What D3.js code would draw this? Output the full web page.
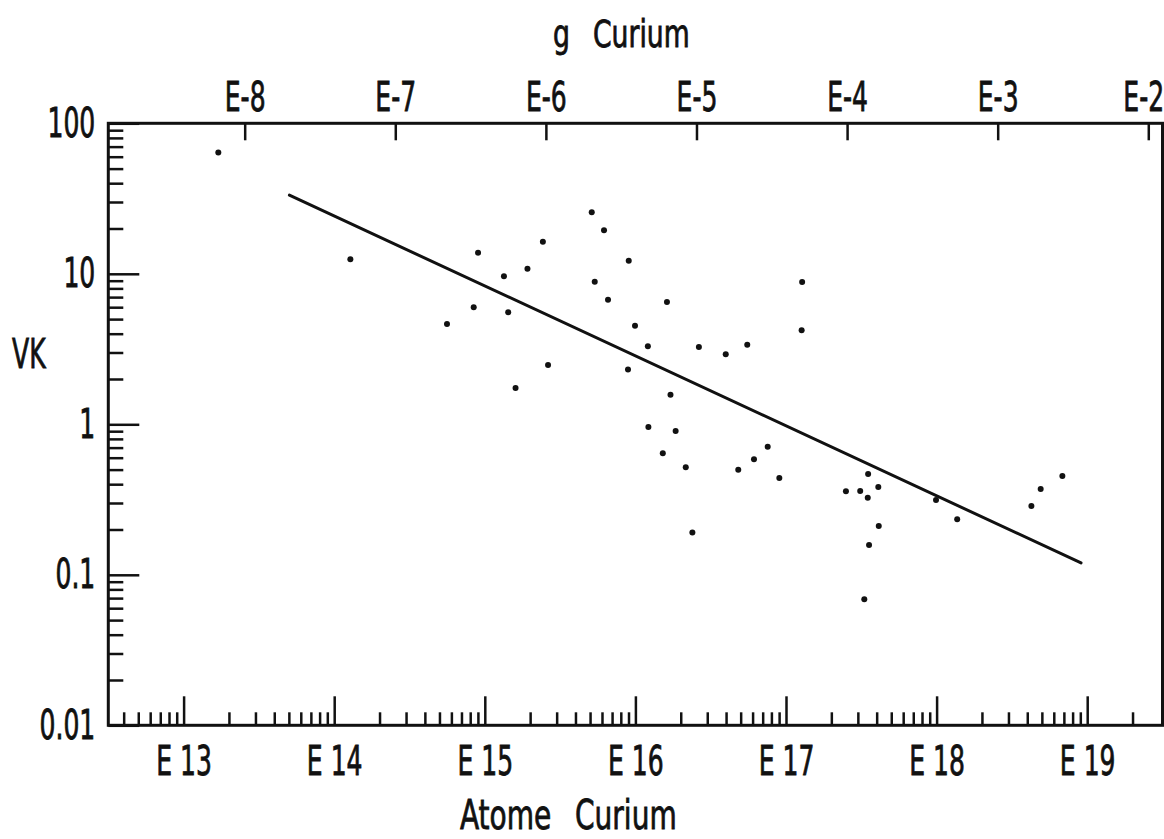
<!DOCTYPE html>
<html>
<head>
<meta charset="utf-8">
<script src="https://cdn.jsdelivr.net/npm/d3@7"></script>
<style>
  body { margin: 0; background: #fff; }
  text { font-family: "Liberation Sans Narrow", "DejaVu Sans Condensed", "Arial Narrow", sans-serif; fill: #111; stroke: #111; stroke-width: 0.8px; }
</style>
</head>
<body>
<script>
// VK against amount of curium (log-log) with the fitted line

const w = 1164;
const h = 839;

// points
const atoms = [
  1.70e13, 1.28e14, 5.61e14, 8.44e14, 9.02e14, 1.34e15, 1.43e15, 1.60e15,
  1.92e15, 2.43e15, 2.63e15, 5.13e15, 5.37e15, 6.19e15, 6.58e15, 8.93e15,
  9.03e15, 9.94e15, 1.21e16, 1.22e16, 1.52e16, 1.62e16, 1.71e16, 1.85e16,
  2.16e16, 2.39e16, 2.64e16, 3.98e16, 4.82e16, 5.53e16, 6.13e16, 7.56e16,
  9.03e16, 1.27e17, 1.28e17, 2.50e17, 3.11e17, 3.31e17, 3.49e17, 3.51e17,
  3.56e17, 4.10e17, 4.13e17, 9.91e17, 1.37e18, 4.26e18, 4.91e18, 6.84e18
];
const vk = [
  64.0, 12.5, 4.64, 5.99, 13.8, 9.63, 5.55, 1.74,
  10.8, 16.3, 2.48, 25.6, 8.87, 19.5, 6.73, 2.31,
  12.2, 4.52, 3.30, 0.96, 0.641, 6.50, 1.57, 0.902,
  0.518, 0.191, 3.26, 2.92, 0.499, 3.38, 0.585, 0.710,
  0.440, 4.21, 8.82, 0.359, 0.360, 0.0687, 0.325, 0.468,
  0.158, 0.383, 0.211, 0.314, 0.234, 0.286, 0.372, 0.454
];

// fitted line, end points
const fitAtoms = [5.04e13, 9.10e18];
const fitVK = [33.3, 0.120];

// axis ticks
const atomTicks = [1e13, 1e14, 1e15, 1e16, 1e17, 1e18, 1e19];
const gramTicks = [1e-8, 1e-7, 1e-6, 1e-5, 1e-4, 1e-3, 1e-2];
const vkTicks = [0.01, 0.1, 1, 10, 100];
const vkTickLabels = ["0.01", "0.1", "1", "10", "100"];

const gramsPerAtom = 3.93e-22; // top axis offset as drawn

const ink = "#111";
const sx = 0.68; // narrow lettering

const svg = d3.select("body")
  .append("svg")
  .attr("width", w)
  .attr("height", h);

const m = { left: 108.3, right: 1162.5, top: 123.3, bottom: 725.3 };

const x_scale = d3.scaleLog()
  .domain([10 ** 12.5, 10 ** 19.5])
  .range([m.left, m.right]);

const g_scale = d3.scaleLog()
  .domain(x_scale.domain().map(d => d * gramsPerAtom))
  .range([m.left, m.right]);

const y_scale = d3.scaleLog()
  .domain([0.01, 100])
  .range([m.bottom, m.top]);

const isPow10 = d => Math.abs(Math.log10(d) - Math.round(Math.log10(d))) < 1e-9;

const xMinor = x_scale.ticks().filter(d => !isPow10(d) && x_scale(d) < m.right - 10);
const yMinor = y_scale.ticks().filter(d => !isPow10(d));

function styleAxis(sel) {
  sel.select(".domain").remove();
  sel.selectAll(".tick line")
    .attr("stroke", ink)
    .attr("stroke-width", 2.5);
  sel.selectAll(".tick text")
    .attr("fill", ink)
    .attr("font-size", "41px")
    .attr("transform", `scale(${sx},1)`);
}

// bottom: minor then major
svg.append("g")
  .attr("transform", `translate(0,${m.bottom})`)
  .call(d3.axisBottom(x_scale).tickValues(xMinor).tickSize(-13).tickFormat(""))
  .call(styleAxis);

svg.append("g")
  .attr("transform", `translate(0,${m.bottom})`)
  .call(d3.axisBottom(x_scale).tickValues(atomTicks).tickSize(-29).tickPadding(21)
    .tickFormat(d => "E " + Math.round(Math.log10(d))))
  .call(styleAxis);

// left: minor then major
svg.append("g")
  .attr("transform", `translate(${m.left},0)`)
  .call(d3.axisLeft(y_scale).tickValues(yMinor).tickSize(-15).tickFormat(""))
  .call(styleAxis);

svg.append("g")
  .attr("transform", `translate(${m.left},0)`)
  .call(d3.axisLeft(y_scale).tickValues(vkTicks).tickSize(-31).tickPadding(13 / sx)
    .tickFormat((d, i) => vkTickLabels[i]))
  .call(styleAxis);

// top: grams
const topAxis = svg.append("g")
  .attr("transform", `translate(0,${m.top})`)
  .call(d3.axisTop(g_scale).tickValues(gramTicks).tickSize(-17).tickPadding(12)
    .tickFormat(d => "E" + Math.round(Math.log10(d))))
  .call(styleAxis);

// last label sits against the right edge
topAxis.selectAll(".tick text")
  .filter(d => d === gramTicks[gramTicks.length - 1])
  .attr("transform", `translate(-5,0) scale(${sx},1)`);

// frame
svg.append("rect")
  .attr("x", m.left)
  .attr("y", m.top)
  .attr("width", m.right - m.left)
  .attr("height", m.bottom - m.top)
  .attr("fill", "none")
  .attr("stroke", ink)
  .attr("stroke-width", 3);

// fitted line
svg.append("line")
  .attr("x1", x_scale(fitAtoms[0]))
  .attr("y1", y_scale(fitVK[0]))
  .attr("x2", x_scale(fitAtoms[1]))
  .attr("y2", y_scale(fitVK[1]))
  .attr("stroke", ink)
  .attr("stroke-width", 3)
  .attr("stroke-linecap", "round");

// points
svg.selectAll("circle")
  .data(atoms)
  .enter()
  .append("circle")
  .attr("cx", d => x_scale(d))
  .attr("cy", (d, i) => y_scale(vk[i]))
  .attr("r", 3)
  .attr("fill", ink);

// axis titles, word by word
function label(x, y, str, size, stretch) {
  svg.append("text")
    .attr("transform", `translate(${x},${y}) scale(${stretch},1)`)
    .attr("font-size", size + "px")
    .text(str);
}

label(553, 47, "g", 37, 0.8);
label(593, 47, "Curium", 37, 0.8);
label(12, 368, "VK", 41, sx);
label(460, 829, "Atome", 41, 0.76);
label(575, 829, "Curium", 41, 0.76);
</script>
</body>
</html>
